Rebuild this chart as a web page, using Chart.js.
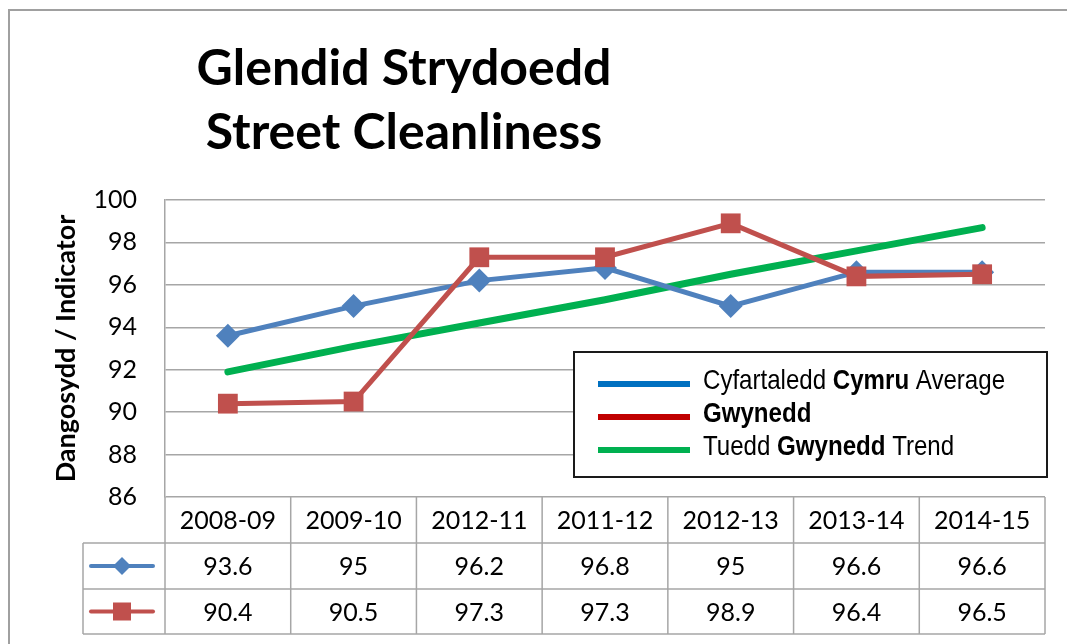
<!DOCTYPE html>
<html>
<head>
<meta charset="utf-8">
<script src="https://cdn.jsdelivr.net/npm/chart.js@4.4.1/dist/chart.umd.min.js"></script>
<style>
    html, body { margin: 0; padding: 0; background: #fff; }
    #wrap { position: relative; width: 1067px; height: 644px; }
</style>
</head>
<body>
<div id="wrap"><canvas id="chart" width="1067" height="644"></canvas></div>
<script>
// categories as printed in the chart (sic)
const years = ["2008-09", "2009-10", "2012-11", "2011-12", "2012-13", "2013-14", "2014-15"];
const walesAvg = [93.6, 95, 96.2, 96.8, 95, 96.6, 96.6];
const gwynedd = [90.4, 90.5, 97.3, 97.3, 98.9, 96.4, 96.5];
// trend line values
const gwyneddTrend = [91.9, 93.1, 94.2, 95.3, 96.5, 97.6, 98.7];

const titleLines = ["Glendid Strydoedd", "Street Cleanliness"];
const yTitle = "Dangosydd / Indicator";
// legend entries: [text, bold?] pieces
const legendItems = [
    { color: "#0070C0", parts: [["Cyfartaledd ", false], ["Cymru", true], [" Average", false]] },
    { color: "#C00000", parts: [["Gwynedd", true]] },
    { color: "#00B050", parts: [["Tuedd ", false], ["Gwynedd", true], [" Trend", false]] },
];

const BODY = "Lato, 'Open Sans', sans-serif";
const ARIAL = "'Liberation Sans', Arial, sans-serif";
const GRID = "#A6A6A6";
const BLUE = "#4F81BD";
const RED = "#C0504D";

// frame, title, legend box and data table
const extras = {
    id: "extras",
    beforeDraw(chart) {
        const ctx = chart.ctx;
        ctx.save();
        ctx.fillStyle = "#fff";
        ctx.fillRect(0, 0, chart.width, chart.height);
        ctx.strokeStyle = "#A0A0A0";
        ctx.lineWidth = 2;
        ctx.beginPath();
        ctx.moveTo(9, chart.height + 5);
        ctx.lineTo(9, 10);
        ctx.lineTo(chart.width + 5, 10);
        ctx.stroke();

        ctx.fillStyle = "#000";
        ctx.font = "bold 50px " + BODY;
        ctx.textAlign = "center";
        ctx.textBaseline = "alphabetic";
        ctx.fillText(titleLines[0], 404, 85);
        ctx.fillText(titleLines[1], 404, 149);
        ctx.restore();
    },
    afterDraw(chart) {
        const ctx = chart.ctx;
        const x = chart.scales.x;
        const area = chart.chartArea;
        const half = (x.getPixelForValue(1) - x.getPixelForValue(0)) / 2;
        const rows = [area.bottom, 543, 589, 634];
        const keyLeft = 83;

        ctx.save();
        // table grid
        ctx.strokeStyle = GRID;
        ctx.lineWidth = 1.5;
        ctx.beginPath();
        for (let r = 1; r < rows.length; r++) {
            ctx.moveTo(keyLeft, rows[r]);
            ctx.lineTo(area.right, rows[r]);
        }
        ctx.moveTo(keyLeft, rows[1]);
        ctx.lineTo(keyLeft, rows[3]);
        ctx.moveTo(area.left, rows[0]);
        ctx.lineTo(area.left, rows[3]);
        years.forEach((y, i) => {
            const bx = x.getPixelForValue(i) + half;
            ctx.moveTo(bx, rows[0]);
            ctx.lineTo(bx, rows[3]);
        });
        ctx.stroke();

        // table text
        ctx.fillStyle = "#000";
        ctx.font = "25px " + BODY;
        ctx.textAlign = "center";
        ctx.textBaseline = "middle";
        years.forEach((y, i) => {
            const cx = x.getPixelForValue(i);
            ctx.fillText(y, cx, (rows[0] + rows[1]) / 2 + 1);
            ctx.fillText(String(walesAvg[i]), cx, (rows[1] + rows[2]) / 2 + 1);
            ctx.fillText(String(gwynedd[i]), cx, (rows[2] + rows[3]) / 2 + 1);
        });

        // table keys
        const kx = (keyLeft + area.left) / 2 - 2;
        const ky1 = (rows[1] + rows[2]) / 2;
        const ky2 = (rows[2] + rows[3]) / 2;
        ctx.lineCap = "round";
        ctx.lineWidth = 4;
        ctx.strokeStyle = BLUE;
        ctx.beginPath(); ctx.moveTo(kx - 31, ky1); ctx.lineTo(kx + 31, ky1); ctx.stroke();
        ctx.fillStyle = BLUE;
        ctx.beginPath();
        ctx.moveTo(kx, ky1 - 9); ctx.lineTo(kx + 9, ky1); ctx.lineTo(kx, ky1 + 9); ctx.lineTo(kx - 9, ky1);
        ctx.closePath(); ctx.fill();
        ctx.strokeStyle = RED;
        ctx.beginPath(); ctx.moveTo(kx - 31, ky2); ctx.lineTo(kx + 31, ky2); ctx.stroke();
        ctx.fillStyle = RED;
        ctx.fillRect(kx - 9, ky2 - 9, 18, 18);

        // legend box
        const lb = { l: 574, t: 352, r: 1047, b: 477 };
        ctx.fillStyle = "#fff";
        ctx.fillRect(lb.l, lb.t, lb.r - lb.l, lb.b - lb.t);
        ctx.strokeStyle = "#1a1a1a";
        ctx.lineWidth = 2;
        ctx.lineCap = "butt";
        ctx.strokeRect(lb.l, lb.t, lb.r - lb.l, lb.b - lb.t);
        ctx.textAlign = "left";
        ctx.textBaseline = "middle";
        const squeeze = 0.86; // narrow face look
        legendItems.forEach((item, i) => {
            const ly = 381 + i * 33;
            ctx.strokeStyle = item.color;
            ctx.lineWidth = 6;
            ctx.beginPath(); ctx.moveTo(598, ly + 3); ctx.lineTo(690, ly + 3); ctx.stroke();
            let tx = 703;
            ctx.fillStyle = "#000";
            item.parts.forEach(([t, bold]) => {
                ctx.font = (bold ? "bold " : "") + "28px " + ARIAL;
                ctx.save();
                ctx.translate(tx, ly);
                ctx.scale(squeeze, 1);
                ctx.fillText(t, 0, 0);
                ctx.restore();
                tx += ctx.measureText(t).width * squeeze;
            });
        });
        ctx.restore();
    }
};

new Chart(document.getElementById("chart"), {
    type: "line",
    data: {
        labels: years,
        datasets: [
            {
                label: "Cyfartaledd Cymru Average",
                data: walesAvg,
                borderColor: BLUE,
                backgroundColor: BLUE,
                borderWidth: 5,
                pointStyle: "rectRot",
                pointRadius: 12,
                pointBorderWidth: 0,
                order: 2,
            },
            {
                label: "Gwynedd",
                data: gwynedd,
                borderColor: RED,
                backgroundColor: RED,
                borderWidth: 5,
                pointStyle: "rect",
                pointRadius: 14,
                pointBorderWidth: 0,
                order: 1,
            },
            {
                label: "Tuedd Gwynedd Trend",
                data: gwyneddTrend,
                borderColor: "#00B050",
                backgroundColor: "#00B050",
                borderWidth: 7,
                borderCapStyle: "round",
                pointRadius: 0,
                order: 3,
            },
        ],
    },
    options: {
        responsive: false,
        animation: false,
        layout: { padding: { left: 50, top: 200, right: 22, bottom: 147 } },
        plugins: { legend: { display: false }, tooltip: { enabled: false } },
        scales: {
            x: { display: false, offset: true },
            y: {
                min: 86,
                max: 100,
                afterFit: (s) => { s.width = 115; },
                ticks: { stepSize: 2, color: "#000", padding: 28, font: { size: 25, family: BODY } },
                grid: { color: GRID, lineWidth: 1.5, drawTicks: false },
                border: { color: GRID, width: 1.5 },
                title: {
                    display: true,
                    text: yTitle,
                    color: "#000",
                    font: { size: 27, weight: "bold", family: BODY },
                    padding: { top: 0, bottom: 0 },
                },
            },
        },
    },
    plugins: [extras],
});
</script>
</body>
</html>
